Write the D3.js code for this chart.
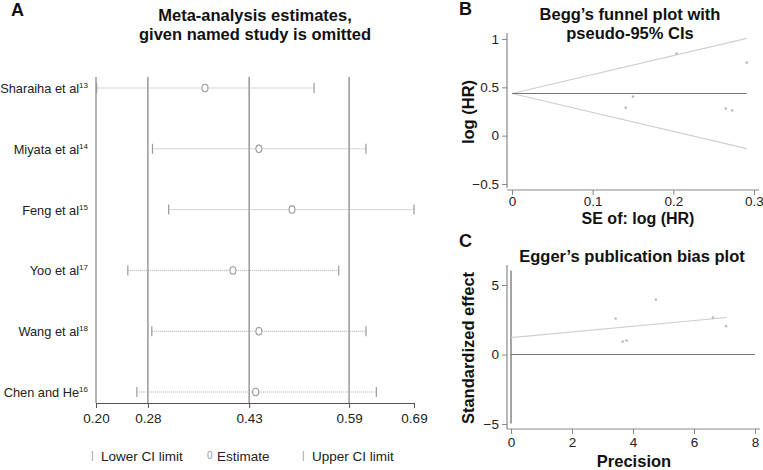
<!DOCTYPE html>
<html>
<head>
<meta charset="utf-8">
<script src="https://cdn.jsdelivr.net/npm/d3@7"></script>
<style>
  body { margin: 0; background: #fff; }
  svg { font-family: "Liberation Sans", Arial, sans-serif; }
</style>
</head>
<body>
<svg id="chart" width="763" height="470"></svg>
<script>
// panel A: leave-one-out estimates
var studies = ["Sharaiha et al", "Miyata et al", "Feng et al", "Yoo et al", "Wang et al", "Chen and He"];
var refs = ["13", "14", "15", "17", "18", "16"];
var lower = [0.201, 0.287, 0.312, 0.249, 0.286, 0.263];
var estimate = [0.368, 0.451, 0.502, 0.411, 0.451, 0.446];
var upper = [0.536, 0.616, 0.690, 0.574, 0.616, 0.632];
var aTicks = [0.200, 0.280, 0.436, 0.590, 0.690];
var aTickLabels = ["0.20", "0.28", "0.43", "0.59", "0.69"];

// panel B: Begg's funnel
var beggSE = [0.204, 0.291, 0.141, 0.150, 0.265, 0.273];
var beggLogHR = [0.849, 0.756, 0.290, 0.404, 0.280, 0.260];
var pooled = 0.436;
var funnelMaxSE = 0.291;

// panel C: Egger's plot
var eggerPrecision = [3.43, 4.75, 3.66, 3.79, 6.62, 7.05];
var eggerEffect = [2.59, 3.96, 0.94, 1.01, 2.66, 2.04];
var eggerLine = [[0, 1.22], [7.08, 2.66]];
var interceptCI = [-4.96, 6.04];

var svg = d3.select("#chart");
var grey = "#888";
var fontFam = "Liberation Sans, Arial, sans-serif";

function bold(x, y, txt, size, anchor) {
  return svg.append("text").attr("x", x).attr("y", y).attr("text-anchor", anchor || "middle")
    .attr("font-size", size).attr("font-weight", "bold").attr("fill", "#111").text(txt);
}

// ---------- A ----------
var xA = d3.scaleLinear().domain([0.2, 0.69]).range([96, 414]);
var yA = d3.scalePoint().domain(studies).range([88, 392]);

bold(11, 16, "A", 18, "start");
bold(255, 21, "Meta-analysis estimates,", 16.5);
bold(255, 40, "given named study is omitted", 16.5);

var gA = svg.append("g");
gA.selectAll("line.v").data(aTicks.slice(1, 4)).enter().append("line")
  .attr("x1", d => xA(d)).attr("x2", d => xA(d)).attr("y1", 77).attr("y2", 403)
  .attr("stroke", grey).attr("stroke-width", 1.3);
gA.append("line").attr("x1", 96).attr("x2", 96).attr("y1", 77).attr("y2", 403).attr("stroke", grey).attr("stroke-width", 1.3);

var axA = gA.append("g").attr("transform", "translate(0,403)")
  .call(d3.axisBottom(xA).tickValues(aTicks).tickSize(5).tickSizeOuter(0).tickFormat((d, i) => aTickLabels[i]));
axA.select(".domain").attr("stroke", "#555").attr("stroke-width", 1.2);
axA.selectAll(".tick line").attr("stroke", "#555");
axA.selectAll(".tick text").attr("font-size", 13.5).attr("fill", "#222").attr("dy", "0.9em").attr("font-family", fontFam);

var rows = gA.selectAll("g.row").data(studies).enter().append("g");
rows.append("line").attr("x1", (d, i) => xA(lower[i])).attr("x2", (d, i) => xA(upper[i]))
  .attr("y1", d => yA(d)).attr("y2", d => yA(d))
  .attr("stroke", "#aaa").attr("stroke-width", 1).attr("stroke-dasharray", "1,1");
rows.append("line").attr("x1", (d, i) => xA(lower[i])).attr("x2", (d, i) => xA(lower[i]))
  .attr("y1", d => yA(d) - 5).attr("y2", d => yA(d) + 5).attr("stroke", "#999").attr("stroke-width", 1.2);
rows.append("line").attr("x1", (d, i) => xA(upper[i])).attr("x2", (d, i) => xA(upper[i]))
  .attr("y1", d => yA(d) - 5).attr("y2", d => yA(d) + 5).attr("stroke", "#999").attr("stroke-width", 1.2);
rows.append("ellipse").attr("cx", (d, i) => xA(estimate[i])).attr("cy", d => yA(d))
  .attr("rx", 3).attr("ry", 3.7).attr("fill", "#fff").attr("stroke", "#999").attr("stroke-width", 1.1);
var lab = rows.append("text").attr("x", 88).attr("y", d => yA(d) + 5).attr("text-anchor", "end")
  .attr("font-size", 12.8).attr("fill", "#222");
lab.append("tspan").text(d => d);
lab.append("tspan").attr("font-size", 8).attr("dy", -5).text((d, i) => refs[i]);

// legend
var legend = [["|", "Lower CI limit", 91], ["0", "Estimate", 207], ["|", "Upper CI limit", 302]];
var lg = svg.selectAll("g.lg").data(legend).enter().append("g");
lg.append("text").attr("x", d => d[2]).attr("y", 459).attr("font-size", 10).attr("fill", "#999").text(d => d[0]);
lg.append("text").attr("x", d => d[2] + 10).attr("y", 461).attr("font-size", 13.5).attr("fill", "#222").text(d => d[1]);

// ---------- B ----------
var xB = d3.scaleLinear().domain([0, 0.3]).range([512, 754]);
var yB = d3.scaleLinear().domain([-0.5, 1]).range([184, 39]);

bold(459, 15, "B", 18, "start");
bold(630, 20, "Begg\u2019s funnel plot with", 16.5);
bold(630, 39, "pseudo-95% CIs", 16.5);

function styleAxis(a) {
  a.select(".domain").attr("stroke", "#888").attr("stroke-width", 1.2);
  a.selectAll(".tick line").attr("stroke", "#888");
  a.selectAll(".tick text").attr("font-size", 13.5).attr("fill", "#222").attr("font-family", fontFam);
}

var axBy = svg.append("g").attr("transform", "translate(507,0)")
  .call(d3.axisLeft(yB).tickValues([-0.5, 0, 0.5, 1]).tickSize(5).tickSizeOuter(0).tickFormat(d => d === -0.5 ? "\u22120.5" : d));
var axBx = svg.append("g").attr("transform", "translate(0,190)")
  .call(d3.axisBottom(xB).tickValues([0, 0.1, 0.2, 0.3]).tickSize(5).tickSizeOuter(0).tickFormat(d => d === 0 ? "0" : d));
styleAxis(axBy); styleAxis(axBx);
axBx.selectAll(".tick text").attr("y", 6);
axBy.select(".domain").attr("d", "M0,33V188");
axBx.select(".domain").attr("d", "M507,0H759");

svg.append("line").attr("x1", xB(0)).attr("x2", xB(funnelMaxSE)).attr("y1", yB(pooled)).attr("y2", yB(pooled - 1.96 * funnelMaxSE)).attr("stroke", "#cfcfcf").attr("stroke-width", 1.2);
svg.append("line").attr("x1", xB(0)).attr("x2", xB(funnelMaxSE)).attr("y1", yB(pooled)).attr("y2", yB(pooled + 1.96 * funnelMaxSE)).attr("stroke", "#cfcfcf").attr("stroke-width", 1.2);
svg.append("line").attr("x1", xB(0)).attr("x2", xB(funnelMaxSE)).attr("y1", yB(pooled)).attr("y2", yB(pooled)).attr("stroke", "#777").attr("stroke-width", 1.2);
svg.selectAll("circle.b").data(beggSE).enter().append("circle")
  .attr("cx", d => xB(d)).attr("cy", (d, i) => yB(beggLogHR[i])).attr("r", 1.3).attr("fill", "#bbb");

svg.append("text").attr("transform", "translate(474,112) rotate(-90)").attr("text-anchor", "middle")
  .attr("font-size", 16.5).attr("font-weight", "bold").attr("fill", "#111").text("log (HR)");
bold(638, 224, "SE of: log (HR)", 16);

// ---------- C ----------
var xC = d3.scaleLinear().domain([0, 8]).range([511, 755]);
var yC = d3.scaleLinear().domain([-5, 5]).range([424, 285]);

bold(459, 247, "C", 18, "start");
bold(632, 262, "Egger\u2019s publication bias plot", 16.5);

var axCy = svg.append("g").attr("transform", "translate(507,0)")
  .call(d3.axisLeft(yC).tickValues([-5, 0, 5]).tickSize(5).tickSizeOuter(0).tickFormat(d => d < 0 ? "\u2212" + Math.abs(d) : d));
var axCx = svg.append("g").attr("transform", "translate(0,429)")
  .call(d3.axisBottom(xC).tickValues([0, 2, 4, 6, 8]).tickSize(5).tickSizeOuter(0));
styleAxis(axCy); styleAxis(axCx);
axCy.select(".domain").attr("d", "M0,265V429");
axCx.select(".domain").attr("d", "M507,0H760");

svg.append("line").attr("x1", xC(0)).attr("x2", xC(8)).attr("y1", yC(0)).attr("y2", yC(0)).attr("stroke", "#777").attr("stroke-width", 1.2);
svg.append("line").attr("x1", xC(0)).attr("x2", xC(0)).attr("y1", yC(interceptCI[0])).attr("y2", yC(interceptCI[1])).attr("stroke", "#666").attr("stroke-width", 1.2);
svg.append("line").attr("x1", xC(eggerLine[0][0])).attr("x2", xC(eggerLine[1][0]))
  .attr("y1", yC(eggerLine[0][1])).attr("y2", yC(eggerLine[1][1])).attr("stroke", "#cfcfcf").attr("stroke-width", 1.2);
svg.selectAll("circle.c").data(eggerPrecision).enter().append("circle")
  .attr("cx", d => xC(d)).attr("cy", (d, i) => yC(eggerEffect[i])).attr("r", 1.3).attr("fill", "#bbb");

svg.append("text").attr("transform", "translate(474,348) rotate(-90)").attr("text-anchor", "middle")
  .attr("font-size", 16.5).attr("font-weight", "bold").attr("fill", "#111").text("Standardized effect");
bold(634, 467, "Precision", 16.5);
</script>
</body>
</html>
